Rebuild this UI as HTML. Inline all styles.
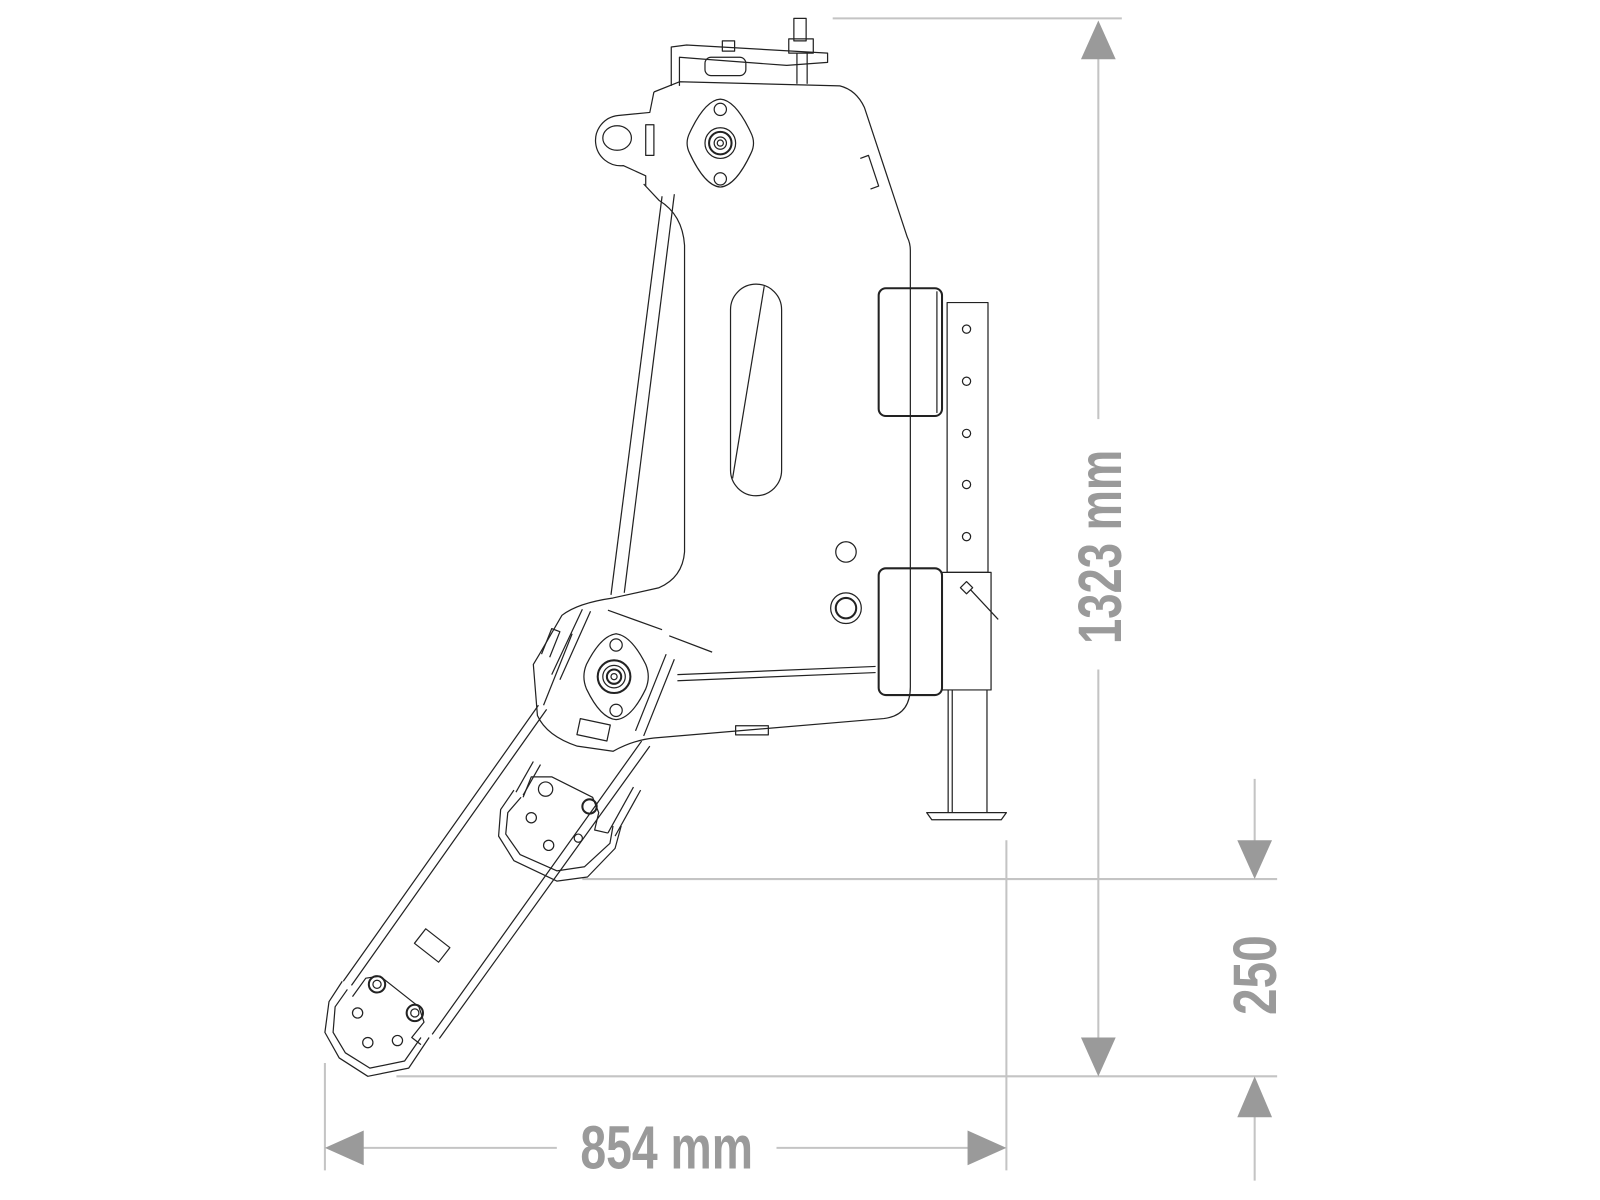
<!DOCTYPE html>
<html><head><meta charset="utf-8"><style>
html,body{margin:0;padding:0;background:#fff;}
svg{display:block;}
</style></head><body>
<svg width="1600" height="1200" viewBox="0 0 1566 1174" preserveAspectRatio="none" xmlns="http://www.w3.org/2000/svg">
<rect width="1566" height="1174" fill="#fff"/>
<!-- dimension lines -->
<g stroke="#c4c4c4" stroke-width="2" fill="none">
<line x1="815" y1="18" x2="1098" y2="18"/>
<line x1="1075" y1="40" x2="1075" y2="410"/>
<line x1="1075" y1="655" x2="1075" y2="1040"/>
<line x1="570" y1="860" x2="1250" y2="860"/>
<line x1="388" y1="1053" x2="1250" y2="1053"/>
<line x1="1228" y1="762" x2="1228" y2="840"/>
<line x1="1228" y1="1075" x2="1228" y2="1155"/>
<line x1="318" y1="1040" x2="318" y2="1145"/>
<line x1="985" y1="822" x2="985" y2="1145"/>
<line x1="330" y1="1123" x2="545" y2="1123"/>
<line x1="760" y1="1123" x2="972" y2="1123"/>
</g>
<g fill="#9a9a9a">
<polygon points="1075,20 1058,58 1092,58"/>
<polygon points="1075,1053 1058,1015 1092,1015"/>
<polygon points="1228,860 1211,822 1245,822"/>
<polygon points="1228,1053 1211,1093 1245,1093"/>
<polygon points="318,1123 356,1106 356,1140"/>
<polygon points="985,1123 947,1106 947,1140"/>
</g>
<g fill="#9a9a9a" font-family="'Liberation Sans Narrow','Liberation Sans',sans-serif" font-weight="bold">
<text x="568" y="1143" font-size="60" textLength="169" lengthAdjust="spacingAndGlyphs">854 mm</text>
<text transform="translate(1097,630) rotate(-90)" font-size="60" textLength="190" lengthAdjust="spacingAndGlyphs">1323 mm</text>
<text transform="translate(1249,993) rotate(-90)" font-size="60" textLength="78" lengthAdjust="spacingAndGlyphs">250</text>
</g>
<!-- machine -->
<g stroke="#222" stroke-width="1.2" fill="none" stroke-linejoin="round">
<polyline points="657,84 657,46 672,44 810,52 810,61 770,64 690,58 665,56 665,84"/>
<rect x="690" y="56" width="40" height="18" rx="6"/>
<rect x="707" y="40" width="12" height="10"/>
<rect x="777" y="18" width="12" height="22"/>
<rect x="772" y="38" width="24" height="14"/>
<line x1="780" y1="52" x2="780" y2="82"/><line x1="790" y1="52" x2="790" y2="82"/>
<path d="M640,90 L665,80 L822,84 Q838,88 846,105 L888,232 Q891,238 891,245 L891,672 Q891,700 865,703 L640,722 Q620,724 600,735 L565,730 Q535,720 526,700 L522,650 L528,640 L550,602 Q565,590 600,585 L645,575 Q668,565 670,540 L670,240 Q668,210 645,196 L630,180"/>
<path d="M640,90 L636,110 L605,113 A24,24 0 1,0 610,162 L632,172 L632,182"/>
<ellipse cx="604" cy="135" rx="14" ry="12"/>
<rect x="632" y="122" width="8" height="30"/>
<path d="M842,155 l8,-3 l10,30 l-8,3"/>
<line x1="648" y1="192" x2="598" y2="582"/>
<line x1="660" y1="190" x2="611" y2="580"/>
<path d="M705,97 Q720,98 735,130 Q740,140 735,150 Q720,182 705,183 Q690,182 675,150 Q670,140 675,130 Q690,98 705,97 Z"/>
<circle cx="705" cy="107" r="6"/><circle cx="705" cy="175" r="6"/>
<circle cx="705" cy="140" r="15"/><circle cx="705" cy="140" r="11" stroke-width="2"/><circle cx="705" cy="140" r="6"/><circle cx="705" cy="140" r="3"/>
<rect x="715" y="278" width="50" height="207" rx="25"/>
<line x1="748" y1="280" x2="717" y2="468"/>
<circle cx="828" cy="540" r="10"/>
<circle cx="828" cy="595" r="15"/><circle cx="828" cy="595" r="10" stroke-width="2"/>
<rect x="860" y="282" width="62" height="125" rx="7" stroke-width="2"/>
<rect x="860" y="556" width="62" height="124" rx="7" stroke-width="2"/>
<line x1="917" y1="285" x2="917" y2="404"/>
<rect x="927" y="296" width="40" height="264"/>
<rect x="922" y="560" width="48" height="115"/>
<line x1="928" y1="675" x2="928" y2="795"/><line x1="966" y1="675" x2="966" y2="795"/>
<line x1="932" y1="675" x2="932" y2="795"/>
<path d="M907,795 L985,795 L980,802 L912,802 Z"/>
<g fill="none"><circle cx="946" cy="322" r="4"/><circle cx="946" cy="373" r="4"/><circle cx="946" cy="424" r="4"/><circle cx="946" cy="474" r="4"/><circle cx="946" cy="525" r="4"/></g>
<path d="M940,575 l6,-6 l6,6 l-6,6 Z"/>
<line x1="950" y1="577" x2="977" y2="606"/>
<line x1="663" y1="660" x2="857" y2="652"/>
<line x1="663" y1="666" x2="857" y2="658"/>
<path d="M603,620 Q618,622 632,650 Q637,662 632,674 Q618,703 603,704 Q588,703 574,674 Q569,662 574,650 Q588,622 603,620 Z"/>
<circle cx="603" cy="631" r="6"/><circle cx="603" cy="695" r="6"/>
<circle cx="601" cy="662" r="16" stroke-width="2"/><circle cx="601" cy="662" r="11"/><circle cx="601" cy="662" r="7" stroke-width="2"/><circle cx="601" cy="662" r="3"/>
<rect x="566" y="706" width="30" height="16" transform="rotate(12 581 714)"/>
<rect x="720" y="710" width="32" height="9"/>
<path d="M530,640 l10,-25 l8,3 l-10,25"/>
<line x1="578" y1="598" x2="548" y2="665"/><line x1="570" y1="596" x2="540" y2="660"/>
<line x1="560" y1="620" x2="532" y2="690"/>
<line x1="595" y1="597" x2="648" y2="616"/>
<line x1="655" y1="622" x2="697" y2="638"/>
<line x1="660" y1="645" x2="630" y2="720"/><line x1="652" y1="640" x2="622" y2="715"/>
<line x1="527" y1="690" x2="336" y2="960"/>
<line x1="535" y1="694" x2="344" y2="964"/>
<line x1="628" y1="725" x2="423" y2="1012"/>
<line x1="636" y1="730" x2="430" y2="1016"/>
<line x1="522" y1="745" x2="505" y2="775"/><line x1="529" y1="748" x2="512" y2="778"/>
<line x1="620" y1="770" x2="595" y2="815"/><line x1="627" y1="773" x2="602" y2="818"/>
<path d="M503,773 L490,792 L488,818 L503,842 L545,862 L575,858 L602,830 L608,808"/>
<path d="M510,780 L497,795 L495,816 L509,836 L545,852 L572,848 L597,825 L600,808"/>
<path d="M512,780 L520,760 L540,760 L580,780 L586,795 L582,812 L595,815"/>
<circle cx="534" cy="772" r="7"/><circle cx="577" cy="789" r="7" stroke-width="2"/>
<circle cx="520" cy="800" r="5"/><circle cx="537" cy="827" r="5"/><circle cx="566" cy="820" r="4"/>
<path d="M335,960 L322,980 L318,1010 L332,1035 L360,1053 L400,1045 L420,1015"/>
<path d="M340,968 L328,985 L326,1010 L338,1030 L362,1045 L396,1038 L412,1015"/>
<path d="M345,975 L358,957 L372,955 L410,985 L415,1000 L403,1015 L412,1022"/>
<circle cx="369" cy="963" r="8" stroke-width="2"/><circle cx="369" cy="963" r="4"/>
<circle cx="406" cy="991" r="8" stroke-width="2"/><circle cx="406" cy="991" r="4"/>
<circle cx="350" cy="991" r="5"/><circle cx="360" cy="1020" r="5"/><circle cx="389" cy="1018" r="5"/>
<rect x="408" y="916" width="30" height="18" transform="rotate(38 423 925)"/>
</g>
</svg>
</body></html>
